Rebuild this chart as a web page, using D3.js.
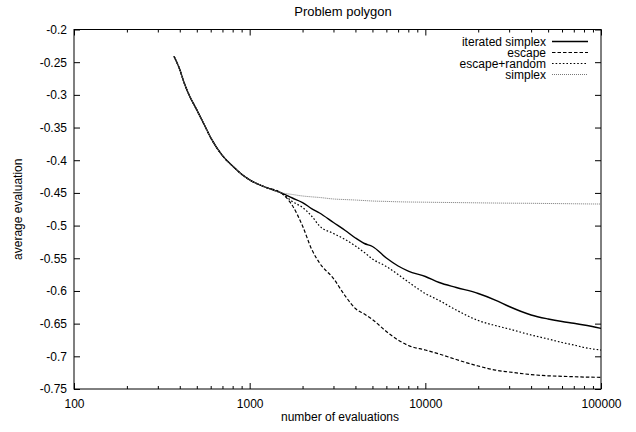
<!DOCTYPE html>
<html>
<head>
<meta charset="utf-8">
<script src="https://cdn.jsdelivr.net/npm/d3@7/dist/d3.min.js"></script>
<style>
  html, body { margin: 0; padding: 0; background: #fff; }
  svg { display: block; }
  text { font-family: "Liberation Sans", Arial, Helvetica, sans-serif; font-size: 12px; fill: #000; }
</style>
</head>
<body>
<svg id="chart" width="636" height="432"></svg>
<script>
// Evaluations where all four methods still share the same path
const earlyEvals = [371, 400, 425, 450, 500, 550, 600, 700, 800, 900, 1000, 1250, 1500];
const earlyValues = [-0.241, -0.2612, -0.2826, -0.299, -0.323, -0.345, -0.3655, -0.393, -0.409, -0.4215, -0.430, -0.442, -0.4495];

// Evaluations after the methods split apart
const lateEvals = [1750, 2000, 2250, 2500, 3000, 3500, 4000, 4500, 5000, 6000, 7000, 8000,
                   10000, 12000, 15000, 20000, 25000, 30000, 40000, 50000, 60000, 70000, 80000, 100000];

const iteratedSimplex = [-0.4578, -0.4647, -0.4739, -0.4807, -0.4953, -0.5075, -0.519, -0.5274, -0.532, -0.5496, -0.5618, -0.5695,
                         -0.5779, -0.5871, -0.5947, -0.6039, -0.6139, -0.6238, -0.6368, -0.6429, -0.6468, -0.6495, -0.6521, -0.6572];
const escape = [-0.4693, -0.5006, -0.5358, -0.5573, -0.581, -0.6077, -0.6269, -0.6353, -0.6437, -0.6621, -0.6751, -0.6835,
                -0.6904, -0.6965, -0.7049, -0.7148, -0.721, -0.724, -0.7279, -0.7298, -0.7306, -0.7312, -0.7317, -0.7321];
const escapeRandom = [-0.4632, -0.4723, -0.4853, -0.5006, -0.5121, -0.5213, -0.5312, -0.5412, -0.5511, -0.5626, -0.5749, -0.5863,
                      -0.6039, -0.6146, -0.6292, -0.6452, -0.6529, -0.6582, -0.6674, -0.6735, -0.6789, -0.6827, -0.6865, -0.6904];
const simplex = [-0.4524, -0.4547, -0.456, -0.457, -0.4593, -0.4602, -0.4609, -0.4617, -0.4624, -0.463, -0.4636, -0.4639,
                 -0.4642, -0.4645, -0.4648, -0.4652, -0.4655, -0.4657, -0.4659, -0.4662, -0.4664, -0.4666, -0.4668, -0.467];

const seriesNames = ["iterated simplex", "escape", "escape+random", "simplex"];
const seriesValues = [iteratedSimplex, escape, escapeRandom, simplex];

const xTickValues = [100, 1000, 10000, 100000];
const yTickValues = [-0.2, -0.25, -0.3, -0.35, -0.4, -0.45, -0.5, -0.55, -0.6, -0.65, -0.7, -0.75];

// Drawing styles for each series
const styles = [
  { stroke: "#000", width: 1.4, dash: null },
  { stroke: "#000", width: 1.2, dash: "3.5,2" },
  { stroke: "#000", width: 1.2, dash: "1.6,2" },
  { stroke: "#777", width: 1.0, dash: "1,1" }
];

const svg = d3.select("#chart");
const plotLeft = 74, plotRight = 601, plotTop = 29.5, plotBottom = 389;

const x = d3.scaleLog().domain([100, 100000]).range([plotLeft, plotRight]);
const y = d3.scaleLinear().domain([-0.75, -0.2]).range([plotBottom, plotTop]);

// Frame
svg.append("rect")
  .attr("x", plotLeft).attr("y", plotTop)
  .attr("width", plotRight - plotLeft).attr("height", plotBottom - plotTop)
  .attr("fill", "none").attr("stroke", "#000").attr("stroke-width", 1);

const minorX = x.ticks().filter(v => !xTickValues.includes(v));

function styleAxis(g) {
  g.select(".domain").remove();
  g.selectAll("line").attr("stroke", "#000");
  g.selectAll("text")
    .style("font-family", '"Liberation Sans", Arial, Helvetica, sans-serif')
    .style("font-size", "12px").attr("fill", "#000");
}

// Bottom axis: major with labels, minor without
svg.append("g").attr("transform", `translate(0,${plotBottom})`)
  .call(d3.axisBottom(x).tickValues(xTickValues).tickSize(-6).tickPadding(10).tickFormat(d3.format("d")))
  .call(styleAxis);
svg.append("g").attr("transform", `translate(0,${plotBottom})`)
  .call(d3.axisBottom(x).tickValues(minorX).tickSize(-3).tickFormat(""))
  .call(styleAxis);
// Top mirror ticks
svg.append("g").attr("transform", `translate(0,${plotTop})`)
  .call(d3.axisTop(x).tickValues(xTickValues).tickSize(-6).tickFormat(""))
  .call(styleAxis);
svg.append("g").attr("transform", `translate(0,${plotTop})`)
  .call(d3.axisTop(x).tickValues(minorX).tickSize(-3).tickFormat(""))
  .call(styleAxis);

// Left axis with labels, right mirror ticks
svg.append("g").attr("transform", `translate(${plotLeft},0)`)
  .call(d3.axisLeft(y).tickValues(yTickValues).tickSize(-6).tickPadding(7).tickFormat(d => String(d)))
  .call(styleAxis);
svg.append("g").attr("transform", `translate(${plotRight},0)`)
  .call(d3.axisRight(y).tickValues(yTickValues).tickSize(-6).tickFormat(""))
  .call(styleAxis);

// Titles
svg.append("text").attr("x", 343).attr("y", 16)
  .attr("text-anchor", "middle").style("font-size", "13px").text("Problem polygon");
svg.append("text").attr("x", 340).attr("y", 421)
  .attr("text-anchor", "middle").text("number of evaluations");
svg.append("text")
  .attr("transform", `translate(22,${(plotTop + plotBottom) / 2}) rotate(-90)`)
  .attr("text-anchor", "middle").text("average evaluation");

// Series lines
const line = d3.line().curve(d3.curveMonotoneX).x(d => x(d[0])).y(d => y(d[1]));
const plot = svg.append("g");
seriesValues.forEach((vals, i) => {
  const pts = earlyEvals.map((e, k) => [e, earlyValues[k]])
    .concat(lateEvals.map((e, k) => [e, vals[k]]));
  const s = styles[i];
  plot.append("path").datum(pts)
    .attr("d", line)
    .attr("fill", "none")
    .attr("stroke", s.stroke)
    .attr("stroke-width", s.width)
    .attr("stroke-dasharray", s.dash)
    .attr("stroke-linejoin", "round");
});

// Legend
const legend = svg.append("g");
seriesNames.forEach((name, i) => {
  const cy = 41.5 + i * 11;
  const s = styles[i];
  legend.append("text").attr("x", 546).attr("y", cy + 4)
    .attr("text-anchor", "end").text(name);
  legend.append("line")
    .attr("x1", 552).attr("x2", 588).attr("y1", cy).attr("y2", cy)
    .attr("stroke", s.stroke).attr("stroke-width", s.width)
    .attr("stroke-dasharray", s.dash);
});
</script>
</body>
</html>
